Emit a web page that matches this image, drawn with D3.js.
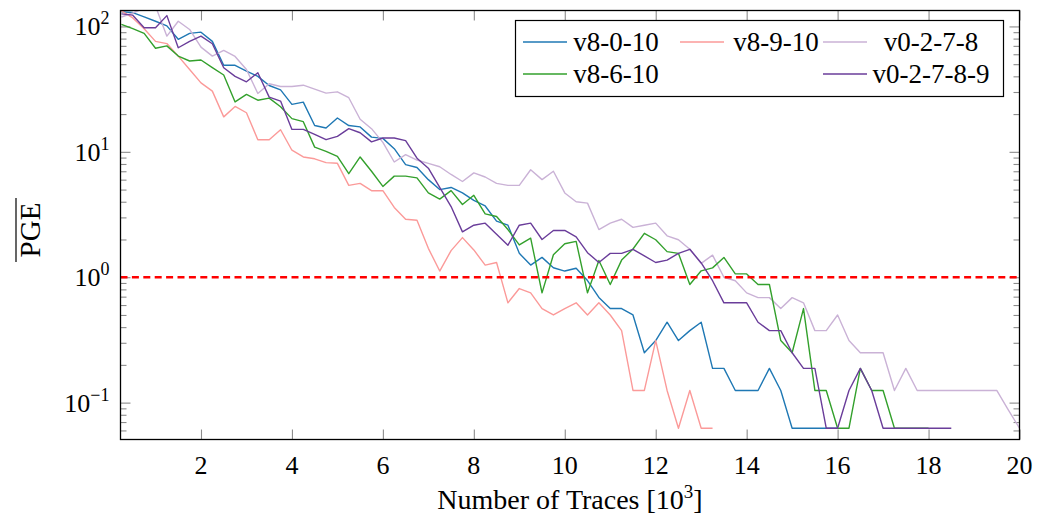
<!DOCTYPE html>
<html>
<head>
<meta charset="utf-8">
<script src="https://cdn.jsdelivr.net/npm/d3@7"></script>
<style>
  body { margin: 0; background: #fff; }
  text { font-family: "Liberation Serif", "DejaVu Serif", serif; fill: #000; }
</style>
</head>
<body>
<div id="chart"></div>
<script>
// Number of traces, in thousands
var traces = [0.25, 0.5, 0.75, 1, 1.25, 1.5, 1.75, 2, 2.25, 2.5, 2.75, 3, 3.25, 3.5, 3.75, 4,
    4.25, 4.5, 4.75, 5, 5.25, 5.5, 5.75, 6, 6.25, 6.5, 6.75, 7, 7.25, 7.5, 7.75, 8,
    8.25, 8.5, 8.75, 9, 9.25, 9.5, 9.75, 10, 10.25, 10.5, 10.75, 11, 11.25, 11.5, 11.75, 12,
    12.25, 12.5, 12.75, 13, 13.25, 13.5, 13.75, 14, 14.25, 14.5, 14.75, 15, 15.25, 15.5, 15.75, 16,
    16.25, 16.5, 16.75, 17, 17.25, 17.5, 17.75, 18, 18.25, 18.5, 18.75, 19, 19.25, 19.5, 19.75, 20];

// PGE per configuration (series stop where the value drops to zero)
var v8_0_10 = [131, 129, 119, 110, 101, 79, 88, 90, 76, 49,
    49, 44, 40, 33.8, 31.2, 23.9, 24.9, 16.2, 15.5, 18.6,
    16.2, 15.8, 13.1, 12.8, 10.6, 7.9, 7.5, 6.0, 5.0, 5.2,
    4.7, 4.1, 3.7, 2.8, 2.6, 1.55, 1.25, 1.44, 1.19, 1.12,
    1.18, 0.94, 0.69, 0.5625, 0.5625, 0.5, 0.25, 0.3125, 0.4375, 0.3125,
    0.375, 0.4375, 0.1875, 0.1875, 0.125, 0.125, 0.125, 0.1875, 0.125, 0.0625,
    0.0625, 0.0625, 0.0625, 0.0625];

var v8_9_10 = [133, 117, 96, 76, 73, 58, 45.4, 35.5, 30.5, 19,
    23, 20.5, 12.5, 12.5, 15, 10.3, 9.1, 8.8, 8.2, 8.1,
    5.4, 5.6, 4.9, 4.9, 3.6, 2.9, 2.85, 1.7, 1.12, 1.63,
    2.07, 1.65, 1.25, 1.31, 0.625, 0.8125, 0.75, 0.5625, 0.5, 0.5625,
    0.625, 0.5, 0.625, 0.5, 0.375, 0.125, 0.125, 0.3125, 0.125, 0.0625,
    0.125, 0.0625, 0.0625];

var v0_2_7_8 = [119, 128, 140, 145, 83.7, 110, 94.6, 68.4, 58, 64.4,
    57.6, 45.4, 29.2, 34.9, 33.2, 33.2, 34, 31.6, 29.4, 30.1,
    27, 18.2, 15.3, 11.9, 8.3, 9.5, 8.6, 8.1, 7.6, 6.6,
    5.8, 6.8, 6.3, 5.6, 5.4, 5.4, 7.2, 6.0, 7.0, 4.7,
    4.0, 3.9, 2.4, 2.7, 2.9, 2.5, 2.6, 2.7, 2.14, 1.99,
    1.67, 1.29, 1.5, 1.0, 0.9375, 0.75, 0.6875, 0.6875, 0.5625, 0.6875,
    0.625, 0.375, 0.375, 0.5, 0.3125, 0.25, 0.25, 0.25, 0.125, 0.1875,
    0.125, 0.125, 0.125, 0.125, 0.125, 0.125, 0.125, 0.125, 0.088, 0.0625];

var v8_6_10 = [104, 96, 88, 67, 70, 58, 53, 54, 47, 41,
    25, 28.7, 25.8, 26.8, 22.9, 18.4, 17.4, 10.9, 10.1, 9.2,
    6.7, 9.1, 7.0, 5.3, 6.4, 6.4, 6.2, 4.7, 4.2, 4.9,
    3.8, 4.5, 3.2, 3.05, 2.4, 1.81, 2.05, 0.75, 1.51, 1.85,
    1.93, 0.75, 1.36, 0.875, 1.37, 1.68, 2.24, 1.99, 1.6, 1.55,
    0.875, 1.125, 1.1875, 1.4375, 1.0625, 1.0625, 0.875, 0.875, 0.3125, 0.25,
    0.5625, 0.125, 0.125, 0.0625, 0.0625, 0.1875, 0.125, 0.125, 0.0625, 0.0625,
    0.0625, 0.0625];

var v0_2_7_8_9 = [126, 123, 97.5, 97.5, 122, 67.6, 76, 83.7, 72.8, 46.8,
    40, 36.2, 42.7, 27.3, 25.4, 15.1, 15.1, 13.8, 12.5, 13.3,
    15.3, 14.2, 12.0, 12.9, 12.9, 12.3, 8.9, 7.4, 5.2, 3.66,
    2.3, 2.6, 2.7, 2.2, 1.8, 2.6, 2.7, 2.0, 2.36, 2.36,
    2.1, 1.57, 1.31, 1.55, 1.55, 1.67, 1.48, 1.31, 1.37, 1.55,
    1.67, 1.3, 0.9375, 0.625, 0.625, 0.625, 0.4375, 0.375, 0.375, 0.25,
    0.1875, 0.1875, 0.0625, 0.0625, 0.125, 0.1875, 0.125, 0.0625, 0.0625, 0.0625,
    0.0625, 0.0625, 0.0625, 0.0625];

// Legend labels, in plotting order
var seriesNames = ["v8-0-10", "v8-9-10", "v0-2-7-8", "v8-6-10", "v0-2-7-8-9"];
var seriesValues = [v8_0_10, v8_9_10, v0_2_7_8, v8_6_10, v0_2_7_8_9];

// Tick values and labels
var xTicks = [2, 4, 6, 8, 10, 12, 14, 16, 18, 20];
var yMajor = [0.1, 1, 10, 100];
var yExponents = ["\u22121", "0", "1", "2"];
var threshold = 1;

// Chart setup
var svgWidth = 1051;
var svgHeight = 520;
var margin = { top: 10.5, right: 31.5, bottom: 80.5, left: 120.5 };
var width = svgWidth - margin.left - margin.right;
var height = svgHeight - margin.top - margin.bottom;

var colors = ["#1f78b4", "#fb9a99", "#cab2d6", "#33a02c", "#6a3d9a"];

var svg = d3.select("#chart").append("svg")
    .attr("width", svgWidth)
    .attr("height", svgHeight);

var chartGroup = svg.append("g")
    .attr("transform", `translate(${margin.left}, ${margin.top})`);

// Scales
var xScale = d3.scaleLinear().domain([0.23, 20]).range([0, width]);
var yScale = d3.scaleLog().domain([0.0508, 134]).range([height, 0]);

// Clip for the lines
svg.append("defs").append("clipPath").attr("id", "plotClip")
    .append("rect").attr("width", width).attr("height", height);

// Tick marks (inside, on all four sides)
var yMinor = yScale.ticks().filter(d => yMajor.indexOf(d) < 0 && Math.abs(Math.log10(d) % 1) > 1e-6);

function styleTicks(g) {
    g.select(".domain").remove();
    g.selectAll(".tick line").attr("stroke", "#8c8c8c").attr("stroke-width", 1.1);
    g.selectAll(".tick text").remove();
}

chartGroup.append("g").call(d3.axisLeft(yScale).tickValues(yMajor).tickSizeInner(-10).tickSizeOuter(0)).call(styleTicks);
chartGroup.append("g").call(d3.axisLeft(yScale).tickValues(yMinor).tickSizeInner(-6).tickSizeOuter(0)).call(styleTicks);
chartGroup.append("g").attr("transform", `translate(${width},0)`)
    .call(d3.axisRight(yScale).tickValues(yMajor).tickSizeInner(-10).tickSizeOuter(0)).call(styleTicks);
chartGroup.append("g").attr("transform", `translate(${width},0)`)
    .call(d3.axisRight(yScale).tickValues(yMinor).tickSizeInner(-6).tickSizeOuter(0)).call(styleTicks);
chartGroup.append("g").attr("transform", `translate(0,${height})`)
    .call(d3.axisBottom(xScale).tickValues(xTicks).tickSizeInner(-10).tickSizeOuter(0)).call(styleTicks);
chartGroup.append("g")
    .call(d3.axisTop(xScale).tickValues(xTicks).tickSizeInner(-10).tickSizeOuter(0)).call(styleTicks);

// X tick labels
chartGroup.selectAll(".xlabel")
    .data(xTicks)
    .enter().append("text")
    .attr("class", "xlabel")
    .attr("x", d => xScale(d))
    .attr("y", height + 34)
    .attr("text-anchor", "middle")
    .attr("font-size", 26)
    .text(d => d);

// Y tick labels (10 with exponent)
var yLabels = chartGroup.selectAll(".ylabel")
    .data(yMajor)
    .enter().append("text")
    .attr("class", "ylabel")
    .attr("x", -11)
    .attr("y", d => yScale(d) + 9)
    .attr("text-anchor", "end")
    .attr("font-size", 26);
yLabels.append("tspan").text("10");
yLabels.append("tspan").attr("dy", -11).attr("font-size", 18).text((d, i) => yExponents[i]);

// Series lines
var line = d3.line()
    .x(d => xScale(d[0]))
    .y(d => yScale(d[1]));

var lineGroup = chartGroup.append("g").attr("clip-path", "url(#plotClip)");

seriesValues.forEach(function(values, i) {
    var points = values.map((v, j) => [traces[j], v]);
    lineGroup.append("path")
        .datum(points)
        .attr("fill", "none")
        .attr("stroke", colors[i])
        .attr("stroke-width", 1.4)
        .attr("stroke-linejoin", "round")
        .attr("d", line);
    // Threshold line goes under the last series
    if (i === 3) {
        lineGroup.append("line")
            .attr("x1", 0).attr("x2", width)
            .attr("y1", yScale(threshold)).attr("y2", yScale(threshold))
            .attr("stroke", "#ff0000")
            .attr("stroke-width", 2.6)
            .attr("stroke-dasharray", "7,4.4");
    }
});

// Frame
chartGroup.append("rect")
    .attr("width", width)
    .attr("height", height)
    .attr("fill", "none")
    .attr("stroke", "#000")
    .attr("stroke-width", 1.3);

// Axis titles
chartGroup.append("text")
    .attr("x", width / 2)
    .attr("y", height + 69)
    .attr("text-anchor", "middle")
    .attr("font-size", 28)
    .call(t => {
        t.append("tspan").text("Number of Traces [10");
        t.append("tspan").attr("dy", -11).attr("font-size", 19).text("3");
        t.append("tspan").attr("dy", 11).text("]");
    });

var yTitle = svg.append("g").attr("transform", "translate(40, 230) rotate(-90)");
yTitle.append("text")
    .attr("text-anchor", "middle")
    .attr("font-size", 29)
    .text("PGE");
yTitle.append("line")
    .attr("x1", -32).attr("x2", 32)
    .attr("y1", -24).attr("y2", -24)
    .attr("stroke", "#000")
    .attr("stroke-width", 1.2);

// Legend
var legendCols = [
    { lineX: 523, textX: 616 },
    { lineX: 680, textX: 776 },
    { lineX: 823, textX: 931 }
];
var legendSlots = [[0, 0], [1, 0], [2, 0], [0, 1], [2, 1]];
var legendRows = [42, 74];

var legend = svg.append("g");
legend.append("rect")
    .attr("x", 515.5).attr("y", 20.5)
    .attr("width", 488).attr("height", 76)
    .attr("fill", "#fff")
    .attr("stroke", "#000")
    .attr("stroke-width", 1.2);

seriesNames.forEach(function(name, i) {
    var col = legendCols[legendSlots[i][0]];
    var rowY = legendRows[legendSlots[i][1]];
    legend.append("line")
        .attr("x1", col.lineX).attr("x2", col.lineX + 44)
        .attr("y1", rowY).attr("y2", rowY)
        .attr("stroke", colors[i])
        .attr("stroke-width", 1.4);
    legend.append("text")
        .attr("x", col.textX)
        .attr("y", rowY + 9)
        .attr("text-anchor", "middle")
        .attr("font-size", 27)
        .text(name);
});
</script>
</body>
</html>
